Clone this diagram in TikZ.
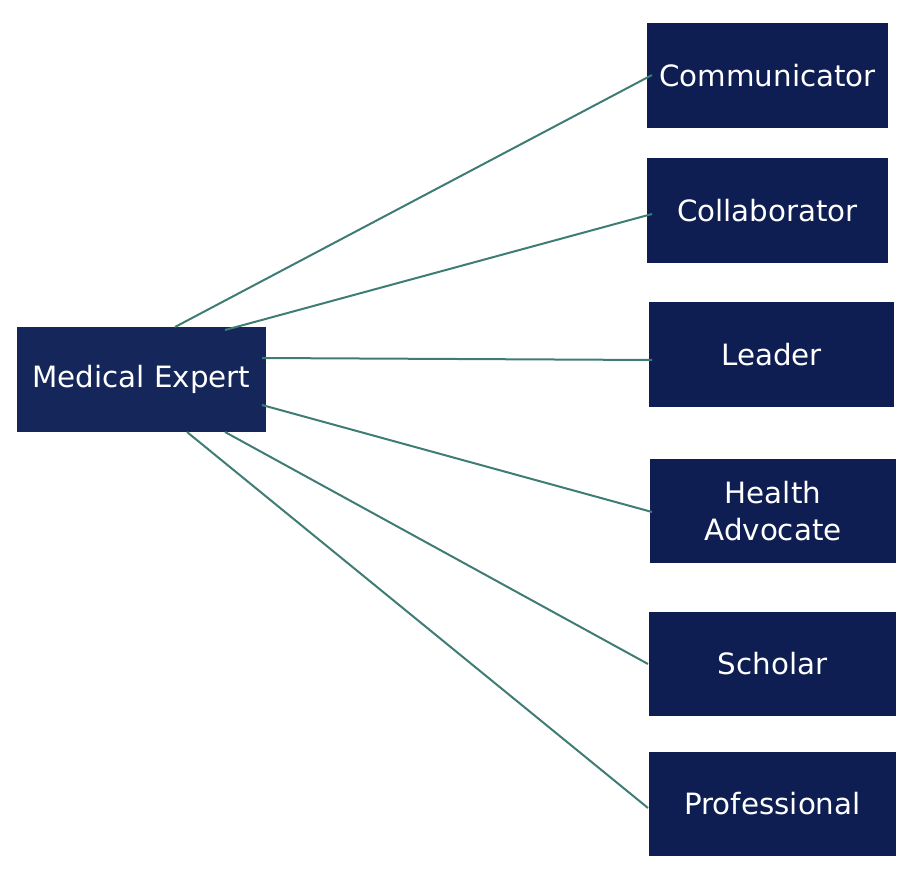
\documentclass[tikz,border=0pt]{standalone}
\usepackage{fontspec}
\setmainfont{DejaVu Sans}
\begin{document}
\begin{tikzpicture}[x=0.75pt,y=-0.75pt,
  box/.style={fill=boxc,draw=none,text=white,font=\fontsize{22}{28}\selectfont,align=center,inner sep=0pt},
  link/.style={draw=linkc,line width=1.5pt}]
\definecolor{boxc}{HTML}{0E1E52}
\definecolor{mec}{HTML}{15265A}
\definecolor{linkc}{HTML}{3E7C74}
\useasboundingbox (0,0) rectangle (914,884);
\node[box,fill=mec,minimum width={249*0.75pt},minimum height={105*0.75pt}] (me) at (141.5,379.5) {Medical Expert};
\node[box,minimum width={241*0.75pt},minimum height={105*0.75pt}] (c1) at (767.5,75.5) {Communicator};
\node[box,minimum width={241*0.75pt},minimum height={105*0.75pt}] (c2) at (767.5,210.5) {Collaborator};
\node[box,minimum width={245*0.75pt},minimum height={105*0.75pt}] (c3) at (771.5,354.5) {Leader};
\node[box,minimum width={246*0.75pt},minimum height={104*0.75pt}] (c4) at (773,511) {Health\\Advocate};
\node[box,minimum width={247*0.75pt},minimum height={104*0.75pt}] (c5) at (772.5,664) {Scholar};
\node[box,minimum width={247*0.75pt},minimum height={104*0.75pt}] (c6) at (772.5,804) {Professional};
\coordinate (s1) at (175,327); \coordinate (e1) at (652,75);
\coordinate (s2) at (225,330); \coordinate (e2) at (652,214);
\coordinate (s3) at (262,358); \coordinate (e3) at (652,360);
\coordinate (s4) at (262,405); \coordinate (e4) at (652,512);
\coordinate (s5) at (225,432); \coordinate (e5) at (648,664);
\coordinate (s6) at (187,432); \coordinate (e6) at (648,808);
\foreach \i in {1,...,6}{\draw[link] (s\i) -- (e\i);}
\end{tikzpicture}
\end{document}
